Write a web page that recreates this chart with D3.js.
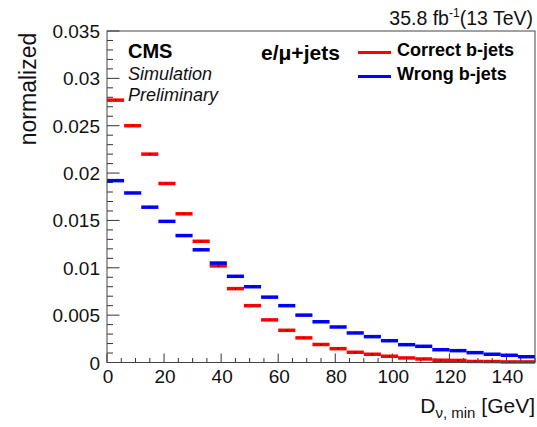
<!DOCTYPE html>
<html>
<head>
<meta charset="utf-8">
<script src="https://cdn.jsdelivr.net/npm/d3@7"></script>
<style>
  body { margin: 0; background: #fff; }
  text { font-family: "Liberation Sans", Arial, sans-serif; }
</style>
</head>
<body>
<svg id="chart" width="537" height="427"></svg>
<script>
// bin edges: 0..150 GeV in 6 GeV steps
const binLow = d3.range(0, 150, 6);
const correct = [0.0277, 0.0250, 0.0220, 0.0189, 0.0157, 0.0128, 0.0102, 0.0078, 0.0060, 0.0045,
                 0.0034, 0.0026, 0.0019, 0.00146, 0.00108, 0.00087, 0.00066, 0.00048, 0.00037, 0.00024,
                 0.00022, 0.00011, 0.0001, 0.00006, 0.00006];
const wrong = [0.0192, 0.0179, 0.0164, 0.0149, 0.0134, 0.0119, 0.0105, 0.0091, 0.0080, 0.0069,
               0.0060, 0.0050, 0.0043, 0.00375, 0.00312, 0.00273, 0.0023, 0.00188, 0.00171, 0.00135,
               0.00125, 0.00104, 0.00087, 0.00076, 0.00061];
const yTicks = [0, 0.005, 0.01, 0.015, 0.02, 0.025, 0.03, 0.035];
const xTicks = [0, 20, 40, 60, 80, 100, 120, 140];

const svg = d3.select("#chart");
const padL = 107, padR = 535, padT = 31, padB = 362.5;

const x = d3.scaleLinear().domain([0, 150]).range([padL, padR]);
const y = d3.scaleLinear().domain([0, 0.035]).range([padB, padT]);

// minor + major ticks, ROOT style (inside)
svg.selectAll(".ym").data(d3.range(0, 0.0351, 0.001)).enter().append("line")
  .attr("x1", padL).attr("x2", function(d, i) { return padL + (i % 5 == 0 ? 12.5 : 6); })
  .attr("y1", function(d) { return y(d); }).attr("y2", function(d) { return y(d); })
  .attr("stroke", "#333").attr("stroke-width", 1);
svg.selectAll(".xm").data(d3.range(0, 151, 5)).enter().append("line")
  .attr("y1", padB).attr("y2", function(d, i) { return padB - (i % 4 == 0 ? 9 : 4.5); })
  .attr("x1", function(d) { return x(d); }).attr("x2", function(d) { return x(d); })
  .attr("stroke", "#333").attr("stroke-width", 1);

svg.selectAll(".yl").data(yTicks).enter().append("text")
  .attr("x", padL - 7).attr("y", function(d) { return y(d) + 7; })
  .attr("text-anchor", "end").style("font-size", "19px").attr("fill", "#111")
  .text(function(d) { return d; });
svg.selectAll(".xl").data(xTicks).enter().append("text")
  .attr("x", function(d) { return x(d) + 1; }).attr("y", 383)
  .attr("text-anchor", "middle").style("font-size", "19px").attr("fill", "#111")
  .text(function(d) { return d; });

function drawHist(vals, color) {
  svg.append("g").selectAll("line").data(vals).enter().append("line")
    .attr("x1", function(d, i) { return x(binLow[i]); })
    .attr("x2", function(d, i) { return x(binLow[i] + 6); })
    .attr("y1", function(d) { return y(d); }).attr("y2", function(d) { return y(d); })
    .attr("stroke", color).attr("stroke-width", 3.5);
  svg.append("g").selectAll("line").data(vals).enter().append("line")
    .attr("x1", function(d, i) { return x(binLow[i] + 3); })
    .attr("x2", function(d, i) { return x(binLow[i] + 3); })
    .attr("y1", function(d) { return y(d) - 0.6; }).attr("y2", function(d) { return y(d) + 0.6; })
    .attr("stroke", "#000").attr("stroke-width", 1);
}
drawHist(correct, "#ff0000");
drawHist(wrong, "#0000ff");

// frame
svg.append("rect").attr("x", padL).attr("y", padT)
  .attr("width", padR - padL).attr("height", padB - padT)
  .attr("fill", "none").attr("stroke", "#444").attr("stroke-width", 1);

// labels
svg.append("text").attr("transform", "translate(36," + (padT + 58) + ") rotate(-90)")
  .attr("text-anchor", "middle").style("font-size", "23px").attr("fill", "#111").text("normalized");

const xl = svg.append("text").attr("x", 535).attr("y", 413).attr("text-anchor", "end")
  .style("font-size", "21px").attr("fill", "#111");
xl.append("tspan").text("D");
xl.append("tspan").attr("dy", 5).style("font-size", "15px").text("ν, min");
xl.append("tspan").attr("dy", -5).text(" [GeV]");

const lumi = svg.append("text").attr("x", 533).attr("y", 25).attr("text-anchor", "end")
  .style("font-size", "19.5px").attr("fill", "#111");
lumi.append("tspan").text("35.8 fb");
lumi.append("tspan").attr("dy", -8).style("font-size", "12px").text("-1");
lumi.append("tspan").attr("dy", 8).text("(13 TeV)");

svg.append("text").attr("x", 128).attr("y", 58).style("font-size", "20px")
  .style("font-weight", "bold").attr("fill", "#000").text("CMS");
svg.append("text").attr("x", 128).attr("y", 80).style("font-size", "18px")
  .style("font-style", "italic").attr("fill", "#111").text("Simulation");
svg.append("text").attr("x", 128).attr("y", 101).style("font-size", "18px")
  .style("font-style", "italic").attr("fill", "#111").text("Preliminary");

svg.append("text").attr("x", 261).attr("y", 60).style("font-size", "21px")
  .style("font-weight", "bold").attr("fill", "#000").text("e/μ+jets");

const legend = [{ name: "Correct b-jets", color: "#ff0000" }, { name: "Wrong b-jets", color: "#0000ff" }];
const lg = svg.selectAll(".lg").data(legend).enter().append("g")
  .attr("transform", function(d, i) { return "translate(358," + (52.5 + i * 24) + ")"; });
lg.append("line").attr("x1", 0).attr("x2", 33).attr("y1", 0).attr("y2", 0)
  .attr("stroke", function(d) { return d.color; }).attr("stroke-width", 3);
lg.append("text").attr("x", 39).attr("y", 3.5).style("font-size", "18px")
  .style("font-weight", "bold").attr("fill", "#000").text(function(d) { return d.name; });
</script>
</body>
</html>
